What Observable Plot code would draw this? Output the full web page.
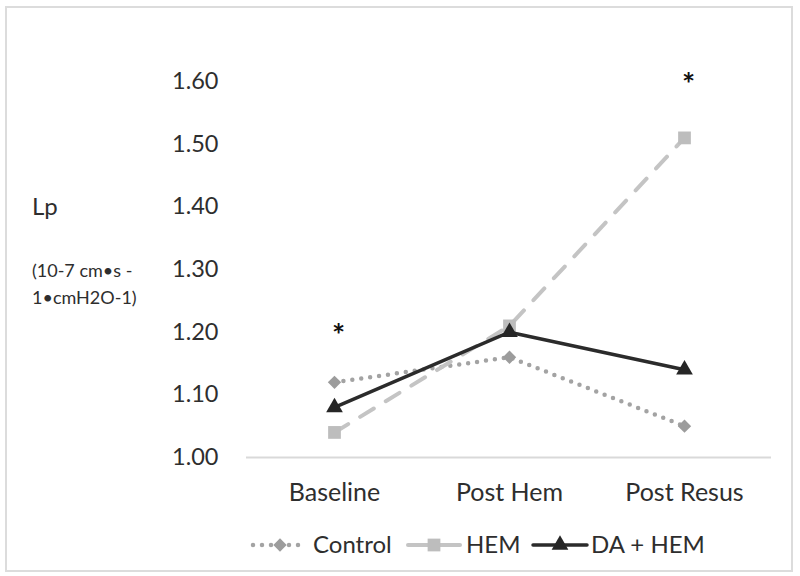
<!DOCTYPE html>
<html><head><meta charset="utf-8">
<script src="https://cdn.jsdelivr.net/npm/d3@7"></script>
<script src="https://cdn.jsdelivr.net/npm/@observablehq/plot@0.6"></script>
<style>
body{margin:0;background:#fff;font-family:Lato,sans-serif;}
#wrap{position:relative;width:800px;height:576px;overflow:hidden;background:#fff;}
#frame{position:absolute;left:5px;top:6px;width:788px;height:566px;border:2px solid #dcdcdc;box-sizing:border-box;pointer-events:none;}
#plot{position:absolute;left:0;top:0;}
#legend{position:absolute;left:0;top:520px;}
.ytitle{position:absolute;left:32px;color:#2e2e2e;white-space:nowrap;}
#lp{top:194px;font-size:24px;line-height:1;}
#units{top:257px;font-size:18px;line-height:27px;}
</style></head>
<body>
<div id="wrap">
  <div id="plot"></div>
  <div class="ytitle" id="lp">Lp</div>
  <div class="ytitle" id="units">(10-7 cm•s -<br>1•cmH2O-1)</div>
  <div id="legend"></div>
  <div id="frame"></div>
</div>
<script>
const categories = ["Baseline", "Post Hem", "Post Resus"];
const control = [1.12, 1.16, 1.05];
const hem = [1.04, 1.21, 1.51];
const daHem = [1.08, 1.20, 1.14];
const seriesNames = ["Control", "HEM", "DA + HEM"];
const yTicks = [1.00, 1.10, 1.20, 1.30, 1.40, 1.50, 1.60];
const sigCategories = ["Baseline", "Post Resus"];
const sigValues = [1.20, 1.60];

const styles = {
  "Control": {stroke: "#a3a3a3", fill: "#9c9c9c", width: 4.5, dash: "0 9", cap: "round", symbol: "diamond2", r: 6},
  "HEM": {stroke: "#c4c4c4", fill: "#bdbdbd", width: 4, dash: "16 14", cap: "round", symbol: "square", r: 7.2},
  "DA + HEM": {stroke: "#2b2b2b", fill: "#262626", width: 3.5, dash: null, cap: "round", symbol: "triangle", r: 6.2}
};

const seriesValues = {"Control": control, "HEM": hem, "DA + HEM": daHem};
const rows = [];
for (const s of seriesNames) categories.forEach((c, i) => rows.push({series: s, cat: c, value: seriesValues[s][i]}));
const sig = sigCategories.map((c, i) => ({cat: c, value: sigValues[i]}));

const marks = [
  Plot.axisY({ticks: yTicks, tickFormat: d3.format(".2f"), tickSize: 0, tickPadding: 28, fontSize: 23.5, label: null}),
  Plot.axisX({tickSize: 0, tickPadding: 26, fontSize: 25, label: null}),
  Plot.ruleY([1], {stroke: "#d9d9d9", strokeWidth: 2})
];
for (const s of seriesNames) {
  const st = styles[s];
  const data = rows.filter(d => d.series === s);
  marks.push(Plot.line(data, {x: "cat", y: "value", stroke: st.stroke, strokeWidth: st.width,
    strokeDasharray: st.dash, strokeLinecap: st.cap, strokeLinejoin: "round"}));
  marks.push(Plot.dot(data, {x: "cat", y: "value", symbol: () => st.symbol, fill: st.fill, stroke: "none", r: st.r}));
}
marks.push(Plot.text(sig, {x: "cat", y: "value", text: () => "*", fontSize: 31, fontWeight: "bold", fill: "#111", dx: 4, dy: 4}));

const chart = Plot.plot({
  width: 800, height: 520,
  marginLeft: 246, marginRight: 29, marginTop: 81, marginBottom: 63,
  x: {type: "point", domain: categories, padding: 0.5},
  y: {domain: [1, 1.6]},
  symbol: {type: "identity"},
  style: {fontFamily: "Lato, sans-serif", color: "#2e2e2e", background: "transparent", overflow: "visible"},
  marks
});
document.getElementById("plot").appendChild(chart);

// legend
const legendItems = [
  {name: "Control", x0: 253, x1: 307, tx: 313},
  {name: "HEM", x0: 408, x1: 460, tx: 466},
  {name: "DA + HEM", x0: 533, x1: 587, tx: 591}
];
const lsvg = d3.select("#legend").append("svg").attr("width", 800).attr("height", 56)
  .style("font-family", "Lato, sans-serif");
const symMap = {diamond2: d3.symbolDiamond2, square: d3.symbolSquare, triangle: d3.symbolTriangle};
for (const it of legendItems) {
  const st = styles[it.name];
  const y = 25;
  lsvg.append("line").attr("x1", it.x0).attr("x2", it.x1).attr("y1", y).attr("y2", y)
    .attr("stroke", st.stroke).attr("stroke-width", st.width)
    .attr("stroke-dasharray", it.name === "HEM" ? null : st.dash).attr("stroke-linecap", st.cap);
  lsvg.append("path").attr("d", d3.symbol(symMap[st.symbol], Math.PI * st.r * st.r)())
    .attr("transform", `translate(${(it.x0 + it.x1) / 2},${y})`).attr("fill", st.fill);
  lsvg.append("text").attr("x", it.tx).attr("y", y).attr("dy", "0.35em")
    .attr("font-size", 24).attr("fill", "#2e2e2e").text(it.name);
}
</script>
</body></html>
